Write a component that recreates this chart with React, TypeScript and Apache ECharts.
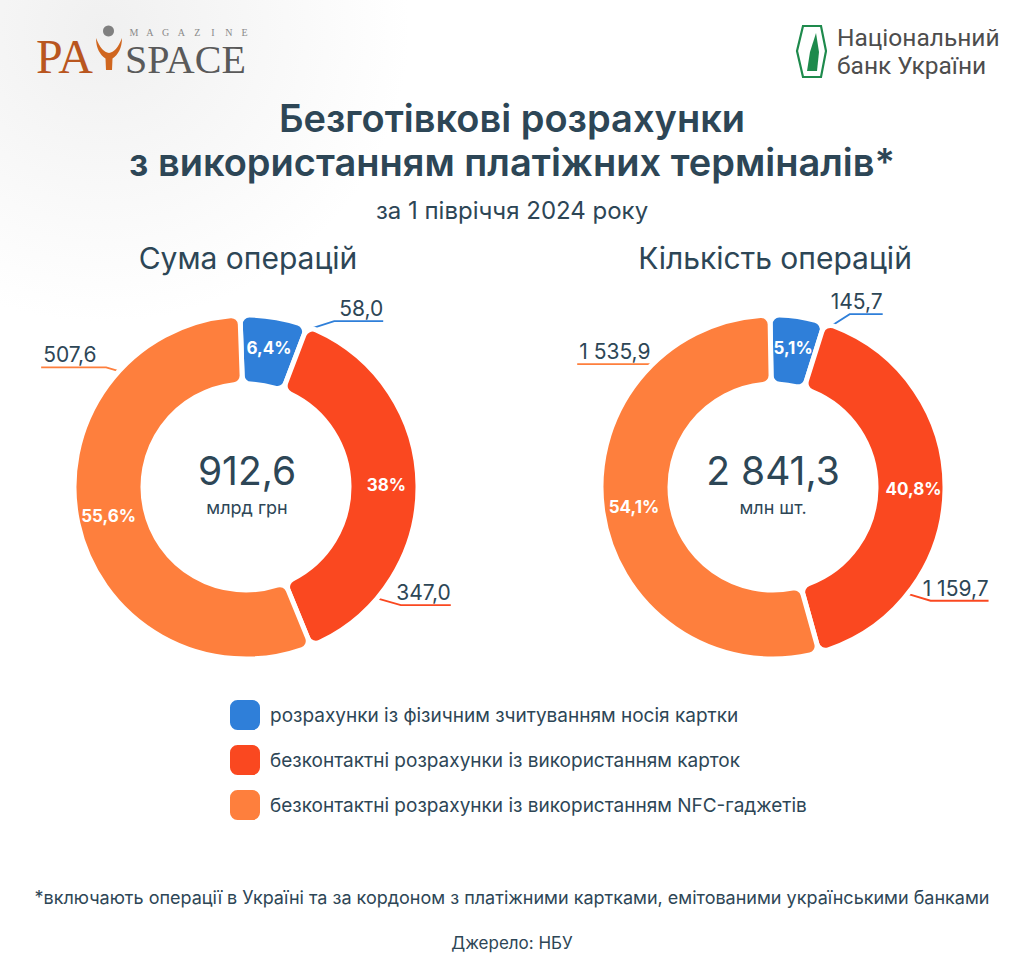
import React, { useEffect, useRef } from "react";
import * as echarts from "echarts";

// Payment categories (shared by both donuts and the legend)
const categories = [
  "розрахунки із фізичним зчитуванням носія картки",
  "безконтактні розрахунки із використанням карток",
  "безконтактні розрахунки із використанням NFC-гаджетів",
];
// Sum of operations, bn UAH
const amountValues = [58.0, 347.0, 507.6];
// Number of operations, mn pcs
const countValues = [145.7, 1159.7, 1535.9];
const sliceColors = ["#2F7FD9", "#FA4820", "#FE7F3D"];

const titleLines = ["Безготівкові розрахунки", "з використанням платіжних терміналів*"];
const subtitle = "за 1 півріччя 2024 року";
const chartHeadings = ["Сума операцій", "Кількість операцій"];
const centerUnits = ["млрд грн", "млн шт."];
const footnote =
  "*включають операції в Україні та за кордоном з платіжними картками, емітованими українськими банками";
const sourceNote = "Джерело: НБУ";

const DARK = "#2D4656";
const FONT = "Inter";

// Y-figure of the magazine logo
echarts.graphic.registerShape(
  "payY",
  echarts.graphic.extendPath(
    "M0,0 C4,10 8,14 13,15 C18,14 22,10 26,0 C26,10 22,17 16.5,20.5 L16,32 L10,32 L9.5,20.5 C4,17 0,10 0,0 Z",
    {}
  ) as any
);

const sum = (a: number[]) => a.reduce((s, v) => s + v, 0);
const fmt = (v: number) => {
  const [i, d] = v.toFixed(1).split(".");
  return i.replace(/\B(?=(\d{3})+(?!\d))/g, " ") + "," + d;
};
const pct = (v: number, total: number) => {
  let s = ((v / total) * 100).toFixed(1);
  if (s.endsWith(".0")) s = s.slice(0, -2);
  return s.replace(".", ",") + "%";
};

// Leader-line guides: angle (deg, clockwise from top) where the line leaves the ring,
// elbow offset and horizontal run under the value label.
type Guide = { angle: number; dx: number; dy: number; len: number };
const leftGuides: Guide[] = [
  { angle: 21, dx: 28, dy: -9, len: 49 },
  { angle: 131, dx: 28, dy: 8, len: 50 },
  { angle: 313, dx: -17, dy: -5, len: 65 },
];
const rightGuides: Guide[] = [
  { angle: 19, dx: 22, dy: -14, len: 33 },
  { angle: 129, dx: 27, dy: 8, len: 58 },
  { angle: 315, dx: -5, dy: -4, len: 72 },
];

const R_IN = 103;
const R_OUT = 172;
const R_EDGE = 168;

function makeLayout(cx: number, cy: number, guides: Guide[]) {
  return (params: any) => {
    const g = guides[params.dataIndex];
    const a = (g.angle * Math.PI) / 180;
    const p0 = [cx + R_EDGE * Math.sin(a), cy - R_EDGE * Math.cos(a)];
    const p1 = [p0[0] + g.dx, p0[1] + g.dy];
    const sign = g.dx >= 0 ? 1 : -1;
    const p2 = [p1[0] + sign * g.len, p1[1]];
    return {
      x: sign > 0 ? p2[0] : p2[0] + 2,
      y: p1[1] - 2,
      align: sign > 0 ? "right" : "left",
      verticalAlign: "bottom",
      labelLinePoints: [p0, p1, p2],
    };
  };
}

function donut(values: number[], cx: number, cy: number, startAngle: number, guides: Guide[]) {
  const total = sum(values);
  const data = values.map((v, i) => ({
    name: categories[i],
    value: v,
    itemStyle: { color: sliceColors[i] },
  }));
  const main = {
    type: "pie",
    center: [cx, cy],
    radius: [R_IN, R_OUT],
    startAngle,
    clockwise: true,
    avoidLabelOverlap: false,
    itemStyle: { borderRadius: 9, borderColor: "#ffffff", borderWidth: 5 },
    label: {
      show: true,
      position: "outside",
      formatter: (p: any) => fmt(p.value),
      fontFamily: FONT,
      fontSize: 21,
      color: DARK,
    },
    labelLine: { show: true, length: 10, length2: 10, lineStyle: { width: 1.8 } },
    labelLayout: makeLayout(cx, cy, guides),
    emphasis: { disabled: true },
    data,
  };
  const inner = {
    type: "pie",
    center: [cx, cy],
    radius: [R_IN, R_OUT],
    startAngle,
    clockwise: true,
    silent: true,
    itemStyle: { color: "rgba(0,0,0,0)", borderWidth: 0 },
    label: {
      show: true,
      position: "inside",
      formatter: (p: any) => pct(p.value, total),
      fontFamily: FONT,
      fontSize: 17,
      fontWeight: 700,
      color: "#ffffff",
    },
    labelLine: { show: false },
    emphasis: { disabled: true },
    data: values.map((v, i) => ({ name: categories[i], value: v })),
  };
  return [main, inner];
}

export default function App() {
  const ref = useRef<HTMLDivElement>(null);

  useEffect(() => {
    document.body.style.margin = "0";
    if (!ref.current) return;
    const chart = echarts.init(ref.current, undefined, { renderer: "svg" });

    const LCX = 246, RCX = 773, CY = 487;
    const magazine = "MAGAZINE".split("").map((ch, i) => ({
      type: "text",
      x: 134 + i * 15.8,
      y: 32,
      style: { text: ch, font: "10px 'Liberation Serif'", fill: "#8a8a8a", align: "center", verticalAlign: "middle" },
    }));

    const graphic: any[] = [
      {
        type: "rect",
        shape: { x: 0, y: 0, width: 1024, height: 977 },
        style: {
          fill: {
            type: "radial",
            x: 0.1,
            y: 0.03,
            r: 0.3,
            colorStops: [
              { offset: 0, color: "#f0f0f0" },
              { offset: 1, color: "#ffffff" },
            ],
          },
        },
        silent: true,
      },
      // Magazine logo
      {
        type: "text",
        x: 36,
        y: 56,
        style: {
          text: "PA",
          font: "48px 'Liberation Serif'",
          fill: "#B9561F",
          verticalAlign: "middle",
        },
      },
      {
        type: "payY",
        x: 96,
        y: 38,
        scaleX: 1,
        scaleY: 1,
        style: { fill: "#D0661F" },
      },
      {
        type: "circle",
        shape: { cx: 108.5, cy: 31, r: 5.5 },
        style: { fill: "#808080" },
      },
      {
        type: "text",
        x: 125,
        y: 59,
        style: { text: "SPACE", font: "40px 'Liberation Serif'", fill: "#5a5a5a", verticalAlign: "middle" },
      },
      ...magazine,
      // National bank logo
      {
        type: "polygon",
        shape: { points: [[803, 26], [821, 26], [826, 51], [821, 77], [803, 77], [797, 51]] },
        style: { fill: "none", stroke: "#1E8A4C", lineWidth: 2.2 },
      },
      {
        type: "polygon",
        shape: { points: [[816, 33], [819, 52], [817, 71], [807, 71], [810, 52]] },
        style: { fill: "#1E8A4C" },
      },
      {
        type: "text",
        x: 837,
        y: 37,
        style: { text: "Національний", font: "24.5px Roboto", fill: "#4d4d4d", verticalAlign: "middle" },
      },
      {
        type: "text",
        x: 837,
        y: 65,
        style: { text: "банк України", font: "24.5px Roboto", fill: "#4d4d4d", verticalAlign: "middle" },
      },
      // Titles
      {
        type: "text",
        x: 512,
        y: 118,
        style: { text: titleLines[0], font: `600 38px ${FONT}`, fill: DARK, align: "center", verticalAlign: "middle" },
      },
      {
        type: "text",
        x: 512,
        y: 162,
        style: { text: titleLines[1], font: `600 38px ${FONT}`, fill: DARK, align: "center", verticalAlign: "middle" },
      },
      {
        type: "text",
        x: 512,
        y: 210,
        style: { text: subtitle, font: `400 24px ${FONT}`, fill: DARK, align: "center", verticalAlign: "middle" },
      },
      {
        type: "text",
        x: LCX + 2,
        y: 258,
        style: { text: chartHeadings[0], font: `400 30px ${FONT}`, fill: DARK, align: "center", verticalAlign: "middle" },
      },
      {
        type: "text",
        x: RCX + 2,
        y: 258,
        style: { text: chartHeadings[1], font: `400 30px ${FONT}`, fill: DARK, align: "center", verticalAlign: "middle" },
      },
      // Donut centres
      {
        type: "text",
        x: LCX + 1,
        y: 470,
        style: { text: fmt(sum(amountValues)), font: `400 39px ${FONT}`, fill: DARK, align: "center", verticalAlign: "middle" },
      },
      {
        type: "text",
        x: LCX + 1,
        y: 507,
        style: { text: centerUnits[0], font: `400 18px ${FONT}`, fill: DARK, align: "center", verticalAlign: "middle" },
      },
      {
        type: "text",
        x: RCX,
        y: 470,
        style: { text: fmt(sum(countValues)), font: `400 39px ${FONT}`, fill: DARK, align: "center", verticalAlign: "middle" },
      },
      {
        type: "text",
        x: RCX,
        y: 507,
        style: { text: centerUnits[1], font: `400 18px ${FONT}`, fill: DARK, align: "center", verticalAlign: "middle" },
      },
      // Notes
      {
        type: "text",
        x: 512,
        y: 897,
        style: { text: footnote, font: `400 18px ${FONT}`, fill: DARK, align: "center", verticalAlign: "middle" },
      },
      {
        type: "text",
        x: 512,
        y: 943,
        style: { text: sourceNote, font: `400 17px ${FONT}`, fill: DARK, align: "center", verticalAlign: "middle" },
      },
    ];

    chart.setOption({
      animation: false,
      backgroundColor: "#ffffff",
      textStyle: { fontFamily: FONT },
      legend: {
        data: categories,
        orient: "vertical",
        left: 230,
        top: 700,
        padding: 0,
        itemWidth: 30,
        itemHeight: 30,
        itemGap: 15,
        icon: "roundRect",
        itemStyle: { borderWidth: 0 },
        textStyle: { fontFamily: FONT, fontSize: 19, color: DARK, padding: [0, 0, 0, 5] },
        selectedMode: false,
      },
      graphic,
      series: [
        ...donut(amountValues, LCX, CY, 92, leftGuides),
        ...donut(countValues, RCX, CY, 91, rightGuides),
      ],
    } as any);

    return () => chart.dispose();
  }, []);

  return <div ref={ref} style={{ width: 1024, height: 977 }} />;
}
